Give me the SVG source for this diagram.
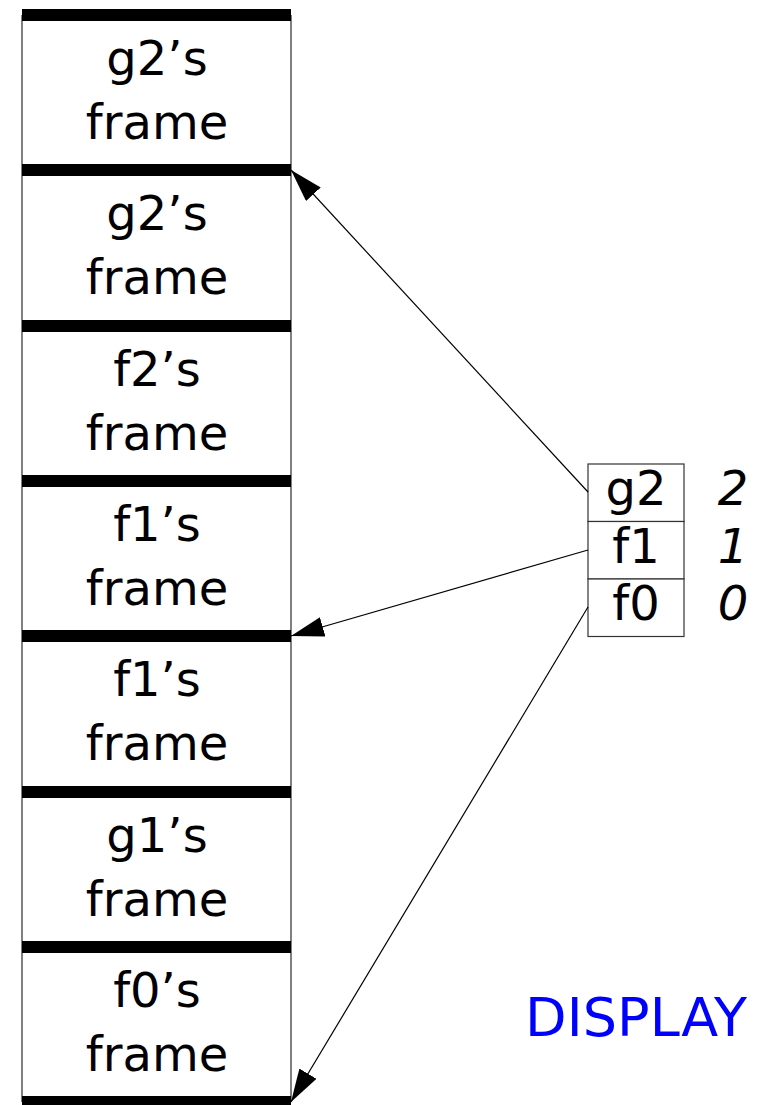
<svg xmlns="http://www.w3.org/2000/svg" width="761" height="1105" viewBox="0 0 761 1105">
<style>
.lbl{font-family:"DejaVu Sans","Liberation Sans",sans-serif;font-size:48px;fill:#000;text-anchor:middle}
.num{font-family:"DejaVu Sans","Liberation Sans",sans-serif;font-size:48px;font-style:italic;fill:#000;text-anchor:middle}
.bar{fill:#000}
.side{stroke:#555;stroke-width:1.5;fill:none}
.cell{fill:#fff;stroke:#333;stroke-width:1.2}
.conn{stroke:#000;stroke-width:1.2;fill:none;marker-end:url(#ah)}
.disp{font-family:"DejaVu Sans","Liberation Sans",sans-serif;font-size:54px;fill:#0000ff}
</style>
<defs>
<marker id="ah" markerUnits="userSpaceOnUse" markerWidth="34" markerHeight="20" refX="33" refY="10" orient="auto">
<path d="M0,0 L33,10 L0,20 z" fill="#000"/>
</marker>
</defs>
<rect width="761" height="1105" fill="#fff"/>
<g id="stack">
<line class="side" x1="22" y1="15" x2="22" y2="1102"/>
<line class="side" x1="291" y1="15" x2="291" y2="1102"/>
<rect class="bar" x="22" y="9" width="269" height="12"/>
<rect class="bar" x="22" y="164" width="269" height="12"/>
<rect class="bar" x="22" y="320" width="269" height="12"/>
<rect class="bar" x="22" y="475" width="269" height="12"/>
<rect class="bar" x="22" y="630" width="269" height="12"/>
<rect class="bar" x="22" y="786" width="269" height="12"/>
<rect class="bar" x="22" y="941" width="269" height="12"/>
<rect class="bar" x="22" y="1096" width="269" height="12"/>
</g>
<g id="frame1"><text class="lbl" x="157" y="75">g2’s</text><text class="lbl" x="157" y="139">frame</text></g>
<g id="frame2"><text class="lbl" x="157" y="230">g2’s</text><text class="lbl" x="157" y="294">frame</text></g>
<g id="frame3"><text class="lbl" x="157" y="386">f2’s</text><text class="lbl" x="157" y="450">frame</text></g>
<g id="frame4"><text class="lbl" x="157" y="541">f1’s</text><text class="lbl" x="157" y="605">frame</text></g>
<g id="frame5"><text class="lbl" x="157" y="696">f1’s</text><text class="lbl" x="157" y="760">frame</text></g>
<g id="frame6"><text class="lbl" x="157" y="852">g1’s</text><text class="lbl" x="157" y="916">frame</text></g>
<g id="frame7"><text class="lbl" x="157" y="1007">f0’s</text><text class="lbl" x="157" y="1071">frame</text></g>
<g id="display-table">
<rect class="cell" x="588" y="464" width="96" height="57.5"/>
<rect class="cell" x="588" y="521.5" width="96" height="57.5"/>
<rect class="cell" x="588" y="579" width="96" height="57.5"/>
<text class="lbl" x="636" y="505">g2</text>
<text class="lbl" x="636" y="563">f1</text>
<text class="lbl" x="636" y="620">f0</text>
<text class="num" x="733" y="505">2</text>
<text class="num" x="733" y="563">1</text>
<text class="num" x="733" y="620">0</text>
</g>
<g id="connectors">
<line class="conn" x1="588" y1="492" x2="291" y2="170"/>
<line class="conn" x1="588" y1="550" x2="291" y2="636"/>
<line class="conn" x1="588" y1="607" x2="291" y2="1102"/>
</g>
<g id="display-label"><text class="disp" x="525" y="1036" textLength="222" lengthAdjust="spacing">DISPLAY</text></g>
</svg>
